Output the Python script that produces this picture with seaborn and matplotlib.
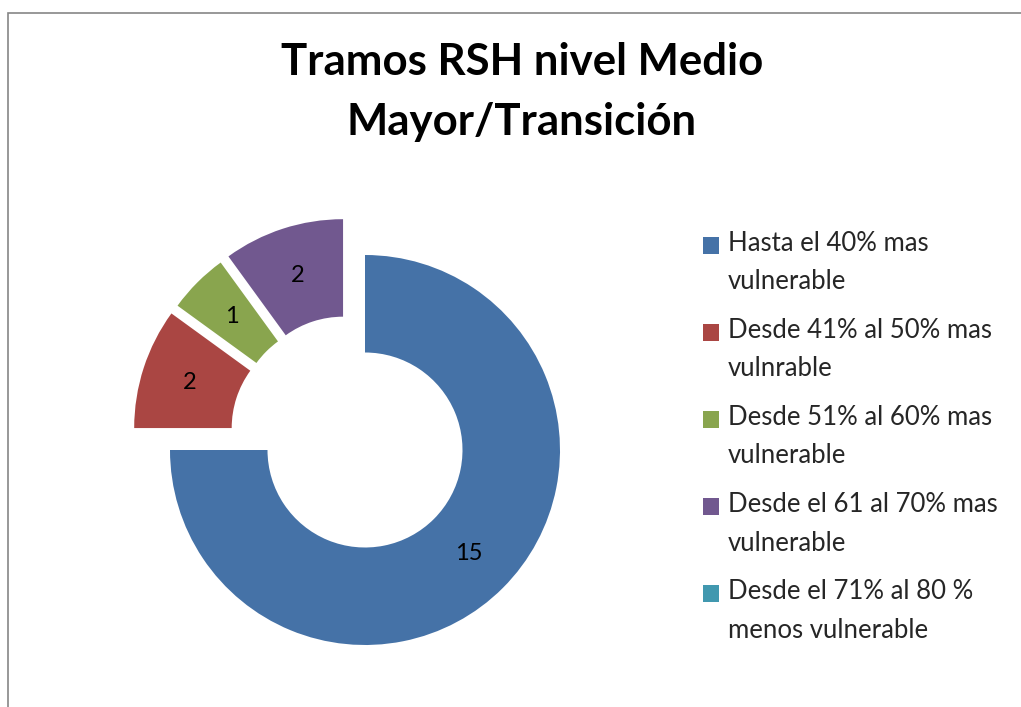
import numpy as np
import matplotlib
matplotlib.use("Agg")
import matplotlib.pyplot as plt
from matplotlib.patches import Rectangle
from matplotlib.legend_handler import HandlerPatch
import seaborn as sns

# data
categories = [
    "Hasta el 40% mas\nvulnerable",
    "Desde 41% al 50% mas\nvulnrable",
    "Desde 51% al 60% mas\nvulnerable",
    "Desde el 61 al 70% mas\nvulnerable",
    "Desde el 71% al 80 %\nmenos vulnerable",
]
values = [15, 2, 1, 2, 0]
exploded = [False, True, True, True, False]
colors = ["#4572A7", "#AA4643", "#89A54E", "#71588F", "#4198AF"]
title = "Tramos RSH nivel Medio\nMayor/Transición"

sns.set_theme(style="white")
plt.rcParams["font.family"] = ["Lato", "DejaVu Sans"]

W, H, DPI = 1021, 707, 100
fig = plt.figure(figsize=(W / DPI, H / DPI), dpi=DPI)
fig.patch.set_facecolor("white")

# chart area frame (Excel style)
fig.patches.append(Rectangle((8 / W, -0.1), 2, 1.1 - 13 / H, transform=fig.transFigure,
                             fill=False, edgecolor="#868686", linewidth=1.2))

# donut axes: centre (365, 450) px, outer radius 195 px
cx, cy, R, half = 365, 450, 195, 240
ax = fig.add_axes([(cx - half) / W, (H - cy - half) / H, 2 * half / W, 2 * half / H])

palette = sns.color_palette(colors)
wedges, _ = ax.pie(values, colors=palette, startangle=90, counterclock=False, radius=1,
                   wedgeprops=dict(width=0.5, edgecolor="none", linewidth=0))
lim = half / R
ax.set_xlim(-lim, lim)
ax.set_ylim(-lim, lim)
ax.set_aspect("equal")
ax.axis("off")

# explode the small slices; Excel pulls them out roughly as a group
mids = [np.deg2rad((w.theta1 + w.theta2) / 2) for w in wedges]
group_mid = np.mean([m for m, e in zip(mids, exploded) if e])
shift = 42 / R
for w, m, e, v in zip(wedges, mids, exploded, values):
    c = np.array([0.0, 0.0])
    if e:
        d = group_mid + (m - group_mid) * 0.5
        c = shift * np.array([np.cos(d), np.sin(d)])
        w.set_center(tuple(c))
    if v > 0:
        pos = c + 0.75 * np.array([np.cos(m), np.sin(m)])
        ax.text(pos[0], pos[1], str(v), ha="center", va="center", fontsize=17, color="black")
    w.set_clip_on(False)

fig.text(522 / W, 1 - 92 / H, title, ha="center", va="center", fontsize=31.5,
         fontweight="bold", linespacing=1.58, color="black")

LEG_FS = 18.5
LINE_PT = 36 * 72 / DPI  # distance between the two lines of a label, in points


def square_marker(legend, orig_handle, xdescent, ydescent, width, height, fontsize):
    # put the square next to the first line of a two-line label
    return Rectangle((-xdescent, -ydescent + LINE_PT / 2), width, height)


leg = ax.legend(wedges, categories, loc="upper left", bbox_to_anchor=(703 / W, 1 - 231 / H),
                bbox_transform=fig.transFigure, frameon=False, fontsize=LEG_FS,
                handlelength=0.62, handleheight=0.62, handletextpad=0.35,
                labelspacing=0.92, borderpad=0, borderaxespad=0,
                handler_map={w: HandlerPatch(patch_func=square_marker) for w in wedges})
for t in leg.get_texts():
    t.set_linespacing(1.67)

fig.savefig("out.png", dpi=DPI, facecolor="white")
